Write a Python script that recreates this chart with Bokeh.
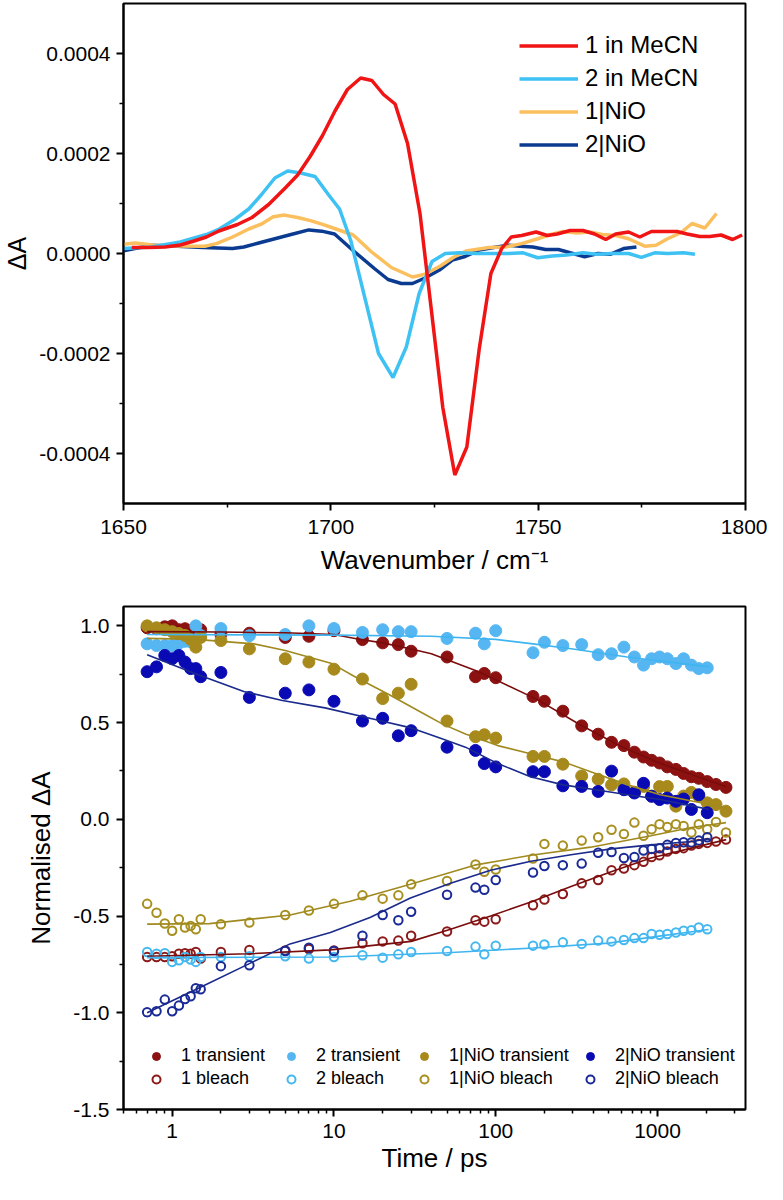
from bokeh.plotting import figure
from bokeh.models import Range1d, FixedTicker, PrintfTickFormatter, Legend, LegendItem
from bokeh.layouts import column
from bokeh.embed import file_html
from bokeh.resources import INLINE

FONT = "Liberation Sans"

# ---------------- top panel data (wavenumber / cm-1, dA) ----------------
wn_1_mecn = [1652, 1656, 1660, 1663.7, 1667, 1670, 1673, 1677.5, 1681, 1685, 1689, 1692, 1695, 1698,
             1701, 1704, 1707.2, 1709.9, 1712.7, 1715.5, 1718.5, 1721.5, 1724.2, 1727, 1729.9, 1732.8,
             1735.8, 1738.6, 1741.2, 1743.5, 1746, 1749.5, 1752.2, 1754.6, 1757.7, 1760.8, 1763.6,
             1766.3, 1768.7, 1771.8, 1774.5, 1777.3, 1780.4, 1783.5, 1785.9, 1789, 1791.4, 1794.1,
             1796.9, 1799.2]
da_1_mecn = [0.000012, 0.000012, 0.000013, 0.000017, 0.000025, 0.000033, 0.000045, 0.000058, 0.000072,
             0.000098, 0.000131, 0.000157, 0.000194, 0.000236, 0.000285, 0.000328, 0.000351, 0.000346,
             0.000318, 0.000299, 0.00022, 0.00008, -0.00011, -0.000308, -0.000443, -0.000387,
             -0.00019, -0.00004, 0.00001, 0.000033, 0.000036, 0.000043, 0.000036, 0.000039, 0.000046,
             0.000046, 0.000039, 0.000028, 0.000039, 0.000043, 0.000033, 0.000044, 0.000044, 0.000044,
             0.000039, 0.000034, 0.000034, 0.000037, 0.000028, 0.000037]

wn_2_mecn = [1650, 1656.7, 1663.7, 1670, 1673.1, 1677, 1680.2, 1683.3, 1686.5, 1689.6, 1692.7, 1696.2,
             1699.4, 1702.1, 1704.8, 1711.5, 1715, 1718.2, 1721.3, 1724.4, 1727.6, 1731.1, 1735, 1739,
             1742.9, 1746.4, 1749.9, 1753.4, 1756.9, 1760.8, 1764, 1767.9, 1771.8, 1774.9, 1778.1,
             1781.2, 1785.1, 1787.8]
da_2_mecn = [0.00001, 0.000013, 0.000023, 0.000038, 0.000049, 0.000069, 0.000089, 0.000118, 0.000151,
             0.000165, 0.000161, 0.000154, 0.000118, 0.000089, 0.000026, -0.0002, -0.000248, -0.000187,
             -0.00008, -0.000016, 0.0, 0.0000014, 0.0, 0.0, 0.0, 0.0000014, -0.0000085, -0.000005,
             -0.000003, 0.0000014, -0.0000013, 0.0, 0.0, -0.0000078, 0.0000014, 0.0, 0.0000014, -0.0000013]

wn_1_nio = [1650, 1652.8, 1657.5, 1663, 1669.6, 1672.4, 1676.3, 1680.2, 1683.3, 1686.1, 1688.8, 1692,
            1695.1, 1698.2, 1700.9, 1705.4, 1709.7, 1714.6, 1719.7, 1722.5, 1726.4, 1729.5, 1732.6,
            1738.1, 1742, 1746, 1749.9, 1753, 1756.1, 1759.3, 1762.4, 1765.5, 1768.7, 1771.8, 1775.7,
            1778.4, 1781.2, 1784.3, 1787.1, 1790.2, 1793]
da_1_nio = [0.0000185, 0.000021, 0.0000165, 0.000015, 0.0000146, 0.0000197, 0.000033, 0.000049, 0.000059,
            0.0000736, 0.0000768, 0.000072, 0.0000657, 0.0000579, 0.00005, 0.000037, 0.000004, -0.000028,
            -0.000047, -0.000042, -0.000025, -0.000008, 0.000005, 0.0000118, 0.000013, 0.0000197,
            0.0000295, 0.000038, 0.000044, 0.000041, 0.000043, 0.000038, 0.000036, 0.0000295, 0.0000146,
            0.0000165, 0.0000295, 0.000041, 0.00006, 0.000051, 0.00008]

wn_2_nio = [1650, 1656.7, 1663, 1669.2, 1676.3, 1679, 1682.6, 1686.5, 1690.4, 1694.7, 1697.8, 1700.9,
            1705.5, 1710.5, 1713.8, 1717, 1719.7, 1722.7, 1726.2, 1729.3, 1732.4, 1735.8, 1740, 1742.9,
            1745.6, 1748.7, 1751.8, 1754.9, 1757.7, 1761.2, 1764.4, 1767.5, 1770.6, 1773.7]
da_2_nio = [0.0000053, 0.0000165, 0.0000146, 0.0000118, 0.0000098, 0.000013, 0.000021, 0.0000295, 0.000038,
            0.0000472, 0.0000447, 0.000039, 0.000005, -0.00003, -0.000052, -0.00006, -0.00006, -0.000049,
            -0.000033, -0.000013, -0.000006, 0.000007, 0.000013, 0.0000165, 0.0000146, 0.000013,
            0.0000079, 0.0000079, 0.0000014, -0.0000065, 0.0, -0.0000013, 0.0000098, 0.000013]

# ---------------- bottom panel data (time / ps, normalised dA) ----------------
t_delay = [0.7, 0.8, 0.9, 1.0, 1.1, 1.2, 1.3, 1.4, 1.5, 2, 3, 5, 7, 10, 15, 20, 25, 30, 50, 75, 85, 100,
           170, 200, 260, 340, 430, 520, 620, 720, 820, 920, 1030, 1150, 1300, 1450, 1620, 1800, 2030,
           2300, 2650]
t_short = t_delay[:39]

tr_1 = [0.99, 0.985, 0.995, 1.0, 0.98, 0.985, 0.975, 0.985, 0.98, 0.957, 0.962, 0.94, 0.946, 0.975,
        0.929, 0.912, 0.903, 0.869, 0.839, 0.737, 0.754, 0.732, 0.635, 0.61, 0.559, 0.483, 0.44, 0.398,
        0.381, 0.347, 0.322, 0.305, 0.291, 0.271, 0.258, 0.237, 0.22, 0.212, 0.195, 0.18, 0.165]
tr_2 = [0.907, 0.898, 0.898, 0.898, 0.91, 0.92, 0.918, 1.0, 0.95, 0.986, 0.949, 0.955, 1.0, 0.986,
        0.966, 0.98, 0.97, 0.97, 0.935, 0.962, 0.907, 0.975, 0.861, 0.915, 0.898, 0.903, 0.851, 0.856,
        0.89, 0.839, 0.797, 0.83, 0.839, 0.83, 0.805, 0.83, 0.797, 0.779, 0.783]
tr_1nio = [1.0, 0.99, 0.98, 0.97, 0.96, 0.95, 0.93, 0.89, 0.94, 0.924, 0.881, 0.83, 0.813, 0.776,
           0.725, 0.624, 0.652, 0.698, 0.508, 0.427, 0.437, 0.42, 0.325, 0.325, 0.285, 0.224, 0.207,
           0.178, 0.183, 0.14, 0.17, 0.12, 0.169, 0.17, 0.068, 0.12, 0.139, 0.119, 0.085, 0.076, 0.042]
tr_2nio = [0.763, 0.788, 0.847, 0.83, 0.847, 0.813, 0.779, 0.779, 0.737, 0.759, 0.63, 0.652, 0.669, 0.61,
           0.508, 0.522, 0.432, 0.458, 0.373, 0.356, 0.288, 0.271, 0.246, 0.246, 0.173, 0.17, 0.144,
           0.249, 0.153, 0.136, 0.186, 0.119, 0.102, 0.11, 0.093, 0.105, 0.051, 0.127, 0.034]

bl_1 = [-0.712, -0.712, -0.712, -0.708, -0.695, -0.692, -0.695, -0.686, -0.72, -0.686, -0.675, -0.678,
        -0.67, -0.678, -0.641, -0.631, -0.627, -0.602, -0.58, -0.522, -0.529, -0.517, -0.444, -0.415,
        -0.386, -0.331, -0.314, -0.263, -0.254, -0.237, -0.22, -0.195, -0.186, -0.166, -0.153, -0.149,
        -0.136, -0.127, -0.122, -0.115, -0.105]
bl_2 = [-0.686, -0.695, -0.692, -0.737, -0.729, -0.712, -0.725, -0.737, -0.712, -0.712, -0.708, -0.708,
        -0.72, -0.712, -0.703, -0.715, -0.698, -0.686, -0.681, -0.658, -0.698, -0.653, -0.653, -0.647,
        -0.636, -0.644, -0.627, -0.631, -0.624, -0.614, -0.614, -0.593, -0.597, -0.593, -0.585, -0.576,
        -0.573, -0.559, -0.568]
bl_1nio = [-0.437, -0.483, -0.539, -0.576, -0.517, -0.559, -0.551, -0.568, -0.517, -0.542, -0.534, -0.495,
           -0.471, -0.437, -0.393, -0.41, -0.393, -0.336, -0.319, -0.234, -0.271, -0.259, -0.203, -0.127,
           -0.136, -0.11, -0.093, -0.054, -0.076, -0.017, -0.085, -0.051, -0.025, -0.04, -0.025, -0.034,
           -0.068, -0.025, -0.051, -0.014, -0.068]
bl_2nio = [-0.997, -0.992, -0.932, -0.992, -0.963, -0.929, -0.915, -0.873, -0.878, -0.759, -0.754, -0.681,
           -0.664, -0.681, -0.602, -0.495, -0.522, -0.478, -0.39, -0.353, -0.364, -0.314, -0.275, -0.241,
           -0.237, -0.229, -0.173, -0.169, -0.2, -0.195, -0.161, -0.153, -0.15, -0.132, -0.122, -0.119,
           -0.12, -0.11, -0.093]

# fitted curves
fit_tr1_t = [0.7, 2, 5, 10, 14, 20, 30, 40, 80, 180, 330, 600, 1000, 2000, 2650]
fit_tr1_y = [0.97, 0.968, 0.964, 0.955, 0.932, 0.912, 0.88, 0.856, 0.76, 0.62, 0.49, 0.375, 0.295, 0.205, 0.17]
fit_tr2_t = [0.7, 10, 40, 100, 170, 300, 650, 1000, 2080]
fit_tr2_y = [0.955, 0.952, 0.946, 0.93, 0.907, 0.88, 0.839, 0.82, 0.788]
fit_tr1nio_t = [0.7, 1.4, 3.2, 5, 9.7, 14, 22, 35, 47, 65, 103, 164, 261, 414, 654, 1040, 1660, 2650]
fit_tr1nio_y = [0.935, 0.93, 0.907, 0.873, 0.805, 0.729, 0.644, 0.551, 0.492, 0.441, 0.381, 0.339, 0.297,
                0.237, 0.178, 0.127, 0.093, 0.06]
fit_tr2nio_t = [0.7, 1.38, 2.77, 4.8, 8.8, 17.7, 29.5, 47, 65, 103, 164, 261, 414, 654, 1040, 1660, 2090]
fit_tr2nio_y = [0.851, 0.754, 0.661, 0.614, 0.576, 0.517, 0.474, 0.415, 0.373, 0.288, 0.22, 0.178, 0.153,
                0.127, 0.102, 0.068, 0.051]
fit_bl1_t = [0.7, 3, 9.5, 30, 52.6, 93, 165, 292, 517, 912, 1620, 2660]
fit_bl1_y = [-0.708, -0.695, -0.675, -0.631, -0.568, -0.5, -0.427, -0.347, -0.271, -0.2, -0.149, -0.105]
fit_bl2_t = [0.7, 10, 50, 170, 500, 1000, 2070]
fit_bl2_y = [-0.715, -0.712, -0.69, -0.665, -0.64, -0.605, -0.57]
fit_bl1nio_t = [0.7, 1.7, 5.35, 12.6, 29.7, 74, 165, 386, 912, 1620, 2650]
fit_bl1nio_y = [-0.542, -0.539, -0.495, -0.424, -0.336, -0.237, -0.186, -0.144, -0.085, -0.042, -0.017]
fit_bl2nio_t = [0.7, 1.53, 3, 5.35, 9.5, 16.7, 29.7, 52.6, 93, 165, 292, 517, 912, 1620, 2100]
fit_bl2nio_y = [-1.0, -0.864, -0.746, -0.644, -0.585, -0.508, -0.407, -0.331, -0.263, -0.217, -0.183,
                -0.153, -0.132, -0.115, -0.1]

top_labels = ["1 in MeCN", "2 in MeCN", "1|NiO", "2|NiO"]
bottom_tr_labels = ["1 transient", "2 transient", "1|NiO transient", "2|NiO transient"]
bottom_bl_labels = ["1 bleach", "2 bleach", "1|NiO bleach", "2|NiO bleach"]


def style_axes(p, tick_size, label_size):
    for ax in (p.xaxis[0], p.yaxis[0]):
        ax.axis_line_width = 2
        ax.axis_line_color = "black"
        ax.major_tick_line_width = 2
        ax.minor_tick_line_width = 1.5
        ax.major_tick_in = 0
        ax.major_tick_out = 7
        ax.minor_tick_in = 0
        ax.minor_tick_out = 4
        ax.major_label_text_font = FONT
        ax.major_label_text_font_size = tick_size
        ax.major_label_text_color = "black"
        ax.axis_label_text_font = FONT
        ax.axis_label_text_font_size = label_size
        ax.axis_label_text_font_style = "normal"
        ax.axis_label_text_color = "black"
    p.xgrid.visible = False
    p.ygrid.visible = False
    p.outline_line_color = "black"
    p.outline_line_width = 2
    p.outline_line_alpha = 1.0
    p.background_fill_color = "white"
    p.border_fill_color = "white"


# ---------------- top figure ----------------
p1 = figure(width=767, height=592, output_backend="svg", toolbar_location=None,
            x_range=Range1d(1650, 1800), y_range=Range1d(-0.0005, 0.0005),
            min_border_left=118, min_border_right=22, min_border_top=3, min_border_bottom=89)
style_axes(p1, "21px", "26px")
p1.xaxis.axis_label = "Wavenumber / cm\u207b\u00b9"
p1.yaxis.axis_label = "\u0394A"
p1.yaxis.axis_label_text_font_size = "25px"
p1.xaxis.ticker = FixedTicker(ticks=[1650, 1700, 1750, 1800], minor_ticks=[1675, 1725, 1775])
p1.yaxis.ticker = FixedTicker(ticks=[-0.0004, -0.0002, 0.0, 0.0002, 0.0004],
                              minor_ticks=[-0.0003, -0.0001, 0.0001, 0.0003])
p1.yaxis.formatter = PrintfTickFormatter(format="%.4f")
p1.xaxis.major_label_standoff = 9
p1.xaxis.axis_label_standoff = 8
p1.yaxis.major_label_standoff = 6
p1.yaxis.axis_label_standoff = 5

r_2nio = p1.line(wn_2_nio, da_2_nio, line_color="#0b3b91", line_width=3.5)
r_1nio = p1.line(wn_1_nio, da_1_nio, line_color="#fbbf5e", line_width=3.5)
r_2 = p1.line(wn_2_mecn, da_2_mecn, line_color="#3ec1f3", line_width=3.5)
r_1 = p1.line(wn_1_mecn, da_1_mecn, line_color="#f01414", line_width=3.5)

leg1 = Legend(items=[LegendItem(label=top_labels[0], renderers=[r_1]),
                     LegendItem(label=top_labels[1], renderers=[r_2]),
                     LegendItem(label=top_labels[2], renderers=[r_1nio]),
                     LegendItem(label=top_labels[3], renderers=[r_2nio])],
              location=(396, 345), orientation="vertical",
              glyph_width=59, glyph_height=25, label_height=25, label_standoff=7, spacing=5,
              padding=0, margin=0, border_line_alpha=0, background_fill_alpha=0,
              label_text_font=FONT, label_text_font_size="24px", label_text_color="black")
p1.add_layout(leg1)

# ---------------- bottom figure ----------------
p2 = figure(width=767, height=592, output_backend="svg", toolbar_location=None,
            x_axis_type="log", x_range=Range1d(0.5, 3500), y_range=Range1d(-1.5, 1.1),
            min_border_left=121, min_border_right=22, min_border_top=14, min_border_bottom=75)
style_axes(p2, "21px", "26px")
p2.xaxis.axis_label = "Time / ps"
p2.yaxis.axis_label = "Normalised \u0394A"
minor_log = [0.5, 0.6, 0.7, 0.8, 0.9] + [k for k in range(2, 10)] + [10 * k for k in range(2, 10)] \
    + [100 * k for k in range(2, 10)] + [2000, 3000]
p2.xaxis.ticker = FixedTicker(ticks=[1, 10, 100, 1000], minor_ticks=minor_log)
p2.xaxis.formatter = PrintfTickFormatter(format="%d")
p2.yaxis.ticker = FixedTicker(ticks=[-1.5, -1.0, -0.5, 0.0, 0.5, 1.0],
                              minor_ticks=[-1.25, -0.75, -0.25, 0.25, 0.75])
p2.yaxis.formatter = PrintfTickFormatter(format="%.1f")
p2.xaxis.major_label_standoff = 7
p2.xaxis.axis_label_standoff = 2
p2.yaxis.major_label_standoff = 7
p2.yaxis.axis_label_standoff = 14

series = [
    (t_delay, tr_1, t_delay, bl_1, "#8c1212", "#8c1a1a", "#7a0c0c",
     fit_tr1_t, fit_tr1_y, fit_bl1_t, fit_bl1_y),
    (t_short, tr_2, t_short, bl_2, "#56b6f2", "#45b8f0", "#3fb5f0",
     fit_tr2_t, fit_tr2_y, fit_bl2_t, fit_bl2_y),
    (t_delay, tr_1nio, t_delay, bl_1nio, "#a88a1c", "#a89020", "#a08a20",
     fit_tr1nio_t, fit_tr1nio_y, fit_bl1nio_t, fit_bl1nio_y),
    (t_short, tr_2nio, t_short, bl_2nio, "#0a0ab4", "#1a2a96", "#1a2a8c",
     fit_tr2nio_t, fit_tr2nio_y, fit_bl2nio_t, fit_bl2nio_y),
]

legend_x = [23, 158, 291, 457]
tr_renderers, bl_renderers = [], []
for (tt, yt, tb, yb, cf, co, cl, ftt, fty, fbt, fby) in series:
    rt = p2.scatter(tt, yt, marker="circle", size=12, fill_color=cf, line_color=cf, line_width=1)
    rb = p2.scatter(tb, yb, marker="circle", size=8.5, fill_color=None, line_color=co, line_width=2)
    tr_renderers.append(rt)
    bl_renderers.append(rb)
for (tt, yt, tb, yb, cf, co, cl, ftt, fty, fbt, fby) in series:
    p2.line(ftt, fty, line_color=cl, line_width=1.6)
    p2.line(fbt, fby, line_color=cl, line_width=1.6)

for i in range(4):
    lg = Legend(items=[LegendItem(label=bottom_tr_labels[i], renderers=[tr_renderers[i]]),
                       LegendItem(label=bottom_bl_labels[i], renderers=[bl_renderers[i]])],
                location=(legend_x[i], 20), orientation="vertical",
                glyph_width=20, glyph_height=20, label_height=20, label_standoff=15, spacing=2,
                padding=0, margin=0, border_line_alpha=0, background_fill_alpha=0,
                label_text_font=FONT, label_text_font_size="18px", label_text_color="black")
    p2.add_layout(lg)

layout = column(p1, p2, spacing=0)
open("out.html", "w").write(file_html(layout, INLINE))
